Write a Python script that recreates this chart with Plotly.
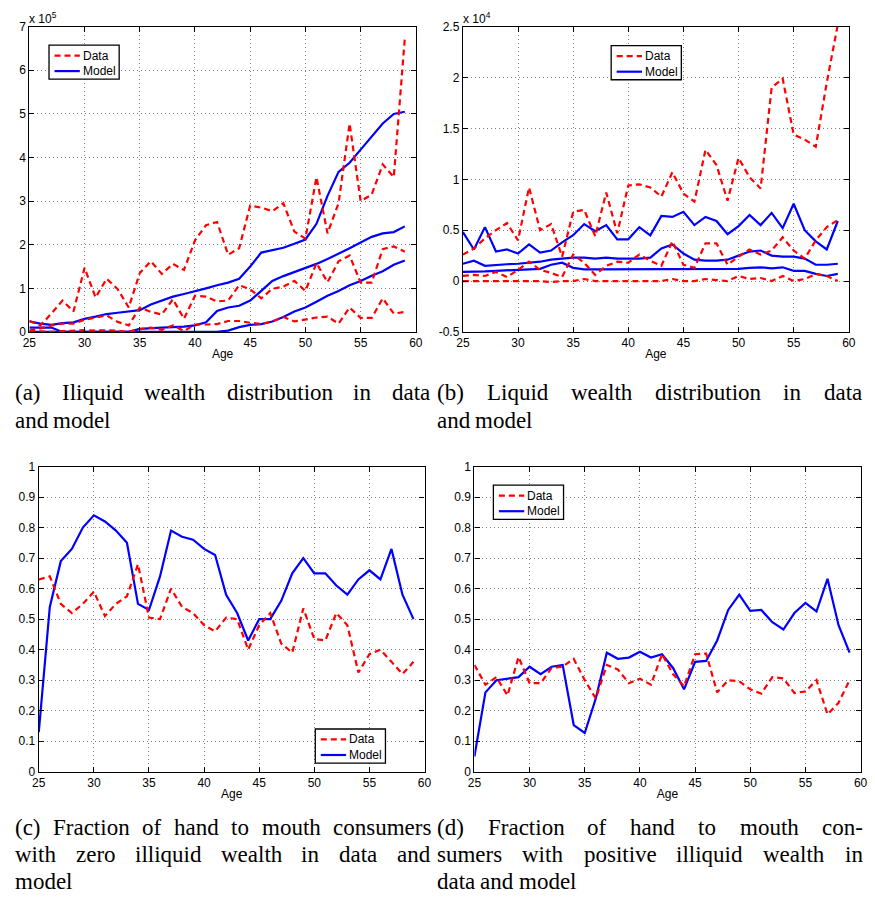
import plotly.graph_objects as go

ages = list(range(25, 60))

# (a) illiquid wealth percentiles, units of 1e5
a_data_hi = [0.25, 0.15, 0.42, 0.72, 0.47, 1.47, 0.79, 1.22, 0.98, 0.56, 1.35, 1.62, 1.33, 1.56, 1.42,
             2.10, 2.45, 2.52, 1.77, 1.92, 2.90, 2.85, 2.77, 2.95, 2.30, 2.14, 3.55, 2.26, 2.95, 4.78,
             3.00, 3.15, 3.84, 3.55, 6.73]
a_data_mid = [0.03, 0.08, 0.15, 0.19, 0.19, 0.28, 0.33, 0.38, 0.23, 0.15, 0.56, 0.46, 0.40, 0.75, 0.30,
              0.83, 0.81, 0.70, 0.72, 1.07, 0.98, 0.77, 0.99, 1.04, 1.17, 0.94, 1.58, 1.14, 1.62, 1.75,
              1.13, 1.13, 1.90, 1.96, 1.84]
a_data_lo = [0.02, 0.01, 0.00, 0.02, 0.03, 0.04, 0.03, 0.04, 0.03, 0.00, 0.06, 0.10, 0.05, 0.15, 0.02,
             0.17, 0.17, 0.18, 0.25, 0.25, 0.21, 0.18, 0.24, 0.34, 0.24, 0.29, 0.33, 0.35, 0.19, 0.56,
             0.32, 0.32, 0.77, 0.42, 0.46]
a_model_hi = [0.24, 0.19, 0.16, 0.20, 0.22, 0.30, 0.35, 0.41, 0.44, 0.47, 0.50, 0.63, 0.72, 0.81, 0.87,
              0.93, 1.00, 1.07, 1.13, 1.22, 1.50, 1.82, 1.88, 1.93, 2.02, 2.12, 2.48, 3.12, 3.67, 3.88,
              4.18, 4.48, 4.78, 5.00, 5.05]
a_model_mid = [0.10, 0.10, 0.10, 0.00, 0.00, 0.00, 0.00, 0.00, 0.00, 0.00, 0.07, 0.09, 0.10, 0.11, 0.12,
               0.15, 0.22, 0.48, 0.56, 0.60, 0.72, 0.94, 1.17, 1.28, 1.37, 1.47, 1.56, 1.67, 1.79, 1.92,
               2.05, 2.18, 2.26, 2.29, 2.42]
a_model_lo = [0.00, 0.00, 0.00, 0.00, 0.00, 0.00, 0.00, 0.00, 0.00, 0.00, 0.00, 0.00, 0.00, 0.00, 0.00,
              0.00, 0.00, 0.00, 0.03, 0.11, 0.16, 0.18, 0.24, 0.34, 0.47, 0.56, 0.69, 0.83, 0.94, 1.07,
              1.17, 1.29, 1.39, 1.54, 1.64]

# (b) liquid wealth percentiles, units of 1e4
b_data_hi = [0.26, 0.32, 0.42, 0.50, 0.57, 0.40, 0.92, 0.50, 0.56, 0.24, 0.68, 0.70, 0.44, 0.87, 0.47,
             0.94, 0.95, 0.92, 0.83, 1.07, 0.86, 0.78, 1.29, 1.14, 0.79, 1.21, 1.02, 0.91, 1.90, 1.99,
             1.44, 1.39, 1.32, 1.95, 2.52]
b_data_mid = [0.05, 0.06, 0.05, 0.09, 0.04, 0.11, 0.19, 0.11, 0.08, 0.04, 0.26, 0.18, 0.06, 0.15, 0.19,
              0.18, 0.26, 0.20, 0.15, 0.39, 0.16, 0.13, 0.37, 0.37, 0.16, 0.24, 0.31, 0.26, 0.30, 0.43,
              0.30, 0.22, 0.40, 0.53, 0.60]
b_data_lo = [0.00, 0.00, 0.00, 0.00, 0.00, 0.00, 0.00, 0.00, -0.01, 0.00, 0.00, 0.02, 0.00, 0.00, 0.00,
             0.00, 0.00, 0.00, 0.00, 0.02, 0.00, 0.00, 0.02, 0.01, 0.00, 0.05, 0.02, 0.03, 0.00, 0.05,
             0.00, 0.02, 0.07, 0.05, 0.00]
b_model_hi = [0.48, 0.31, 0.53, 0.29, 0.31, 0.27, 0.36, 0.28, 0.30, 0.38, 0.45, 0.56, 0.49, 0.55, 0.41,
              0.41, 0.53, 0.45, 0.64, 0.63, 0.68, 0.55, 0.63, 0.59, 0.46, 0.54, 0.65, 0.55, 0.67, 0.52,
              0.76, 0.50, 0.39, 0.31, 0.59]
b_model_mid = [0.17, 0.20, 0.15, 0.16, 0.165, 0.17, 0.18, 0.19, 0.21, 0.22, 0.23, 0.23, 0.22, 0.23, 0.22,
               0.22, 0.22, 0.23, 0.32, 0.36, 0.27, 0.21, 0.20, 0.20, 0.21, 0.25, 0.29, 0.30, 0.25, 0.24,
               0.24, 0.22, 0.16, 0.16, 0.17]
b_model_lo = [0.09, 0.09, 0.095, 0.10, 0.105, 0.11, 0.115, 0.12, 0.16, 0.18, 0.13, 0.115, 0.115, 0.115, 0.115,
              0.12, 0.12, 0.12, 0.12, 0.12, 0.12, 0.12, 0.12, 0.12, 0.12, 0.12, 0.13, 0.135, 0.125, 0.135,
              0.10, 0.10, 0.07, 0.05, 0.07]

# (c) share of hand-to-mouth with zero illiquid wealth
c_data = [0.63, 0.64, 0.55, 0.52, 0.55, 0.59, 0.51, 0.55, 0.575, 0.68, 0.505, 0.50, 0.60, 0.54, 0.52,
          0.48, 0.46, 0.505, 0.50, 0.40, 0.48, 0.52, 0.42, 0.39, 0.535, 0.435, 0.43, 0.52, 0.48, 0.325,
          0.385, 0.40, 0.36, 0.32, 0.36]
c_model = [0.13, 0.54, 0.69, 0.73, 0.80, 0.84, 0.82, 0.79, 0.75, 0.55, 0.53, 0.64, 0.79, 0.77, 0.76,
           0.73, 0.71, 0.58, 0.52, 0.43, 0.50, 0.50, 0.56, 0.65, 0.70, 0.65, 0.65, 0.61, 0.58, 0.63,
           0.66, 0.63, 0.73, 0.58, 0.50]

# (d) share of hand-to-mouth with positive illiquid wealth
d_data = [0.35, 0.285, 0.31, 0.25, 0.376, 0.29, 0.29, 0.34, 0.344, 0.37, 0.30, 0.24, 0.35, 0.335, 0.29,
          0.305, 0.285, 0.385, 0.32, 0.28, 0.385, 0.387, 0.26, 0.30, 0.296, 0.27, 0.256, 0.31, 0.306, 0.258,
          0.263, 0.30, 0.188, 0.226, 0.30]
d_model = [0.05, 0.26, 0.30, 0.306, 0.31, 0.344, 0.32, 0.344, 0.35, 0.153, 0.127, 0.24, 0.39, 0.37, 0.374,
           0.393, 0.374, 0.385, 0.34, 0.27, 0.36, 0.363, 0.43, 0.53, 0.58, 0.527, 0.53, 0.49, 0.466, 0.52,
           0.553, 0.525, 0.632, 0.48, 0.39]

legend_names = ["Data", "Model"]

# caption lines: (justified?, text)
cap_a = [(True, "(a) Iliquid wealth distribution in data"), (False, "and model")]
cap_b = [(True, "(b) Liquid wealth distribution in data"), (False, "and model")]
cap_c = [(True, "(c) Fraction of hand to mouth consumers"),
         (True, "with zero illiquid wealth in data and"), (False, "model")]
cap_d = [(True, "(d) Fraction of hand to mouth con-"),
         (True, "sumers with positive illiquid wealth in"), (False, "data and model")]

W, H = 875, 909
RED, BLUE = "#ff0000", "#0000ff"
DASH = "6px,4px"
SANS = "Liberation Sans, Arial, Helvetica, sans-serif"
TICK_FONT = dict(family=SANS, size=12, color="black")
CAP_SIZE = 23
CAP_FONT = dict(family="Liberation Serif, Times New Roman, serif", size=CAP_SIZE, color="black")

# Times-compatible advance widths (1/1000 em) used to justify caption lines
SERIF_W = {" ": 250, "(": 333, ")": 333, "-": 333, "a": 444, "b": 500, "c": 444, "d": 500,
           "e": 444, "f": 333, "g": 500, "h": 500, "i": 278, "j": 278, "k": 500, "l": 278,
           "m": 778, "n": 500, "o": 500, "p": 500, "q": 500, "r": 333, "s": 389, "t": 278,
           "u": 500, "v": 500, "w": 722, "x": 500, "y": 500, "z": 444, "F": 556, "I": 333,
           "L": 611}


def word_width(w):
    return sum(SERIF_W.get(ch, 500) for ch in w) * CAP_SIZE / 1000.0


def px_x(p):
    return p / W


def px_y(p):
    return 1 - p / H


# panel frames in pixels: (left, right, top, bottom)
frames = {
    "a": (22.7, 415.5, 20, 330),
    "b": (463.3, 855.5, 20, 330),
    "c": (32.3, 424.3, 466.7, 776.7),
    "d": (475.0, 867.5, 466.7, 776.7),
}

fig = go.Figure()

panels = [
    ("x", "y",
     [(a_data_hi, "d"), (a_data_mid, "d"), (a_data_lo, "d"),
      (a_model_hi, "m"), (a_model_mid, "m"), (a_model_lo, "m")]),
    ("x2", "y2",
     [(b_data_hi, "d"), (b_data_mid, "d"), (b_data_lo, "d"),
      (b_model_hi, "m"), (b_model_mid, "m"), (b_model_lo, "m")]),
    ("x3", "y3", [(c_data, "d"), (c_model, "m")]),
    ("x4", "y4", [(d_data, "d"), (d_model, "m")]),
]

for xa, ya, series in panels:
    # model lines first so the dashed data lines sit on top
    for vals, kind in [s for s in series if s[1] == "m"] + [s for s in series if s[1] == "d"]:
        fig.add_trace(go.Scatter(
            x=ages, y=vals, mode="lines", name=legend_names[0] if kind == "d" else legend_names[1],
            line=dict(color=RED if kind == "d" else BLUE, width=2.2,
                      dash=DASH if kind == "d" else "solid"),
            xaxis=xa, yaxis=ya, showlegend=False,
        ))

GRID = dict(showgrid=True, gridcolor="#808080", griddash="1px,3px", gridwidth=1, zeroline=False)
FRAME = dict(showline=True, linecolor="black", linewidth=1.2, mirror="ticks",
             ticks="inside", ticklen=5, tickcolor="black", tickwidth=1, tickfont=TICK_FONT)


def xaxis_cfg(key, anchor):
    l, r, t, b = frames[key]
    return dict(domain=[px_x(l), px_x(r)], anchor=anchor, range=[25, 60],
                tickvals=[25, 30, 35, 40, 45, 50, 55, 60],
                title=dict(text="Age", font=dict(family=SANS, size=12, color="black"), standoff=0),
                **FRAME, **GRID)


def yaxis_cfg(key, anchor, rng, vals, text):
    l, r, t, b = frames[key]
    return dict(domain=[px_y(b), px_y(t)], anchor=anchor, range=rng,
                tickvals=vals, ticktext=text, **FRAME, **GRID)


frac_vals = [i / 10 for i in range(11)]
frac_text = ["0"] + [f"{v:.1f}" for v in frac_vals[1:-1]] + ["1"]
b_vals = [-0.5, 0, 0.5, 1, 1.5, 2, 2.5]
b_text = ["-0.5", "0", "0.5", "1", "1.5", "2", "2.5"]

annotations = [
    dict(x=px_x(20), y=px_y(11), xref="paper", yref="paper", xanchor="left", yanchor="middle",
         text="x 10<sup>5</sup>", showarrow=False, font=TICK_FONT),
    dict(x=px_x(461), y=px_y(11), xref="paper", yref="paper", xanchor="left", yanchor="middle",
         text="x 10<sup>4</sup>", showarrow=False, font=TICK_FONT),
]
shapes = []


def add_legend(left, top):
    """Boxed two-entry key: dashed red 'Data', solid blue 'Model'."""
    w, h = 71.3, 34.6
    shapes.append(dict(type="rect", xref="paper", yref="paper",
                       x0=px_x(left), x1=px_x(left + w), y0=px_y(top + h), y1=px_y(top),
                       line=dict(color="black", width=1.3), fillcolor="white", layer="above"))
    for k, (name, color, dash) in enumerate([(legend_names[0], RED, DASH),
                                              (legend_names[1], BLUE, "solid")]):
        yy = top + 10.6 + k * 15.8
        shapes.append(dict(type="line", xref="paper", yref="paper",
                           x0=px_x(left + 5.6), x1=px_x(left + 31.3), y0=px_y(yy), y1=px_y(yy),
                           line=dict(color=color, width=2.2, dash=dash), layer="above"))
        annotations.append(dict(x=px_x(left + 33.5), y=px_y(yy), xref="paper", yref="paper",
                                xanchor="left", yanchor="middle", text=name, showarrow=False,
                                font=dict(family=SANS, size=12, color="black"), borderpad=0))


add_legend(42.7, 38.7)
add_legend(614.0, 39.3)
add_legend(313.3, 733.3)
add_legend(494.3, 485.7)


def add_caption(lines, left, right, top_y, step):
    for k, (justify, text) in enumerate(lines):
        y = top_y + k * step
        words = text.split(" ")
        widths = [word_width(w) for w in words]
        if justify and len(words) > 1:
            gap = (right - left - sum(widths)) / (len(words) - 1)
        else:
            gap = word_width(" ")
        x = left
        for w, wd in zip(words, widths):
            annotations.append(dict(x=px_x(x), y=px_y(y), xref="paper", yref="paper",
                                    xanchor="left", yanchor="middle", text=w, showarrow=False,
                                    font=CAP_FONT, borderpad=0))
            x += wd + gap


add_caption(cap_a, 7, 429, 392, 28)
add_caption(cap_b, 436, 868, 392, 28)
add_caption(cap_c, 7, 429, 833, 27.8)
add_caption(cap_d, 436, 868, 833, 27.8)

fig.update_layout(
    width=W, height=H, autosize=False,
    margin=dict(l=0, r=0, t=0, b=0),
    paper_bgcolor="white", plot_bgcolor="white",
    xaxis=xaxis_cfg("a", "y"),
    yaxis=yaxis_cfg("a", "x", [0, 7], list(range(8)), [str(i) for i in range(8)]),
    xaxis2=xaxis_cfg("b", "y2"),
    yaxis2=yaxis_cfg("b", "x2", [-0.5, 2.5], b_vals, b_text),
    xaxis3=xaxis_cfg("c", "y3"),
    yaxis3=yaxis_cfg("c", "x3", [0, 1], frac_vals, frac_text),
    xaxis4=xaxis_cfg("d", "y4"),
    yaxis4=yaxis_cfg("d", "x4", [0, 1], frac_vals, frac_text),
    annotations=annotations,
    shapes=shapes,
    showlegend=False,
)

fig.write_html("out.html")
